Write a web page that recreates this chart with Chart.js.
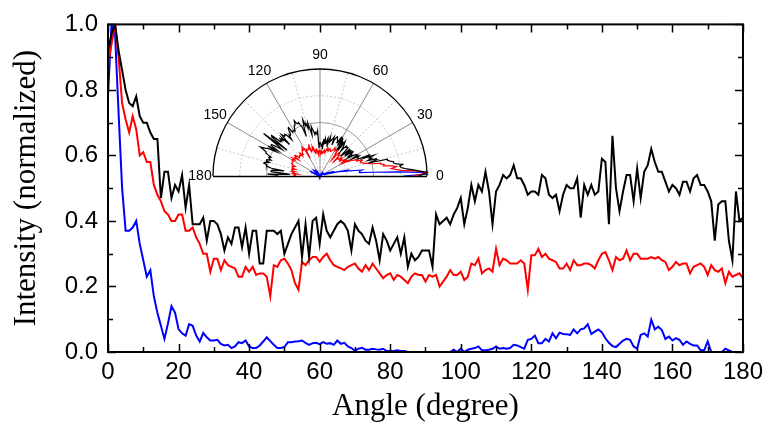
<!DOCTYPE html>
<html>
<head>
<meta charset="utf-8">
<script src="https://cdn.jsdelivr.net/npm/chart.js@4.4.0/dist/chart.umd.min.js"></script>
<style>
  html, body { margin: 0; padding: 0; background: #fff; }
  #wrap { position: relative; width: 769px; height: 425px; }
  #main { position: absolute; left: 0; top: 0; }
  #inset { position: absolute; left: 180px; top: 40px; }
</style>
</head>
<body>
<div id="wrap">
  <canvas id="main" width="769" height="425"></canvas>
  <canvas id="inset" width="280" height="150"></canvas>
</div>
<script>
// angle axis: one sample per degree, 0..180
const angles = Array.from({ length: 181 }, (_, i) => i);

const blackVals = [
  0.92,0.97,1.00,0.92,0.86,0.80,0.76,0.75,0.78,0.72,
  0.70,0.70,0.67,0.65,0.65,0.47,0.55,0.55,0.47,0.51,
  0.49,0.54,0.44,0.51,0.39,0.39,0.39,0.41,0.34,0.40,
  0.40,0.39,0.36,0.31,0.35,0.33,0.38,0.38,0.32,0.38,
  0.30,0.37,0.37,0.27,0.27,0.37,0.37,0.37,0.36,0.37,
  0.30,0.33,0.36,0.38,0.40,0.29,0.39,0.29,0.40,0.41,
  0.33,0.42,0.37,0.35,0.37,0.39,0.40,0.39,0.37,0.31,
  0.39,0.37,0.36,0.34,0.33,0.38,0.34,0.28,0.36,0.34,
  0.31,0.33,0.35,0.30,0.35,0.26,0.30,0.28,0.29,0.31,
  0.31,0.31,0.26,0.42,0.39,0.40,0.41,0.39,0.42,0.44,
  0.47,0.39,0.44,0.51,0.46,0.51,0.49,0.55,0.49,0.39,
  0.49,0.51,0.54,0.53,0.54,0.57,0.53,0.53,0.51,0.48,
  0.49,0.49,0.48,0.54,0.53,0.48,0.47,0.48,0.43,0.48,
  0.51,0.50,0.50,0.53,0.41,0.51,0.48,0.51,0.48,0.49,
  0.59,0.58,0.39,0.66,0.50,0.43,0.49,0.54,0.54,0.46,
  0.56,0.47,0.55,0.57,0.62,0.58,0.55,0.55,0.52,0.49,
  0.51,0.50,0.48,0.52,0.52,0.49,0.53,0.54,0.51,0.51,
  0.49,0.46,0.34,0.45,0.46,0.46,0.34,0.28,0.49,0.40,
  0.41
];

const redVals = [
  0.875,0.94,1.00,0.90,0.76,0.71,0.67,0.72,0.68,0.60,
  0.61,0.58,0.58,0.51,0.48,0.46,0.43,0.42,0.40,0.40,
  0.42,0.42,0.37,0.37,0.38,0.35,0.33,0.30,0.30,0.245,
  0.285,0.285,0.25,0.28,0.265,0.26,0.255,0.23,0.23,0.26,
  0.245,0.26,0.235,0.24,0.24,0.23,0.17,0.265,0.26,0.28,
  0.285,0.27,0.25,0.21,0.19,0.275,0.265,0.28,0.29,0.29,
  0.275,0.29,0.30,0.28,0.265,0.26,0.255,0.25,0.26,0.265,
  0.27,0.255,0.245,0.265,0.25,0.27,0.255,0.24,0.225,0.235,
  0.24,0.22,0.235,0.23,0.22,0.21,0.23,0.24,0.235,0.235,
  0.215,0.235,0.23,0.235,0.20,0.215,0.23,0.25,0.235,0.235,
  0.245,0.22,0.23,0.27,0.265,0.285,0.24,0.25,0.255,0.245,
  0.315,0.265,0.285,0.28,0.27,0.27,0.27,0.28,0.27,0.19,
  0.295,0.295,0.315,0.29,0.30,0.285,0.28,0.275,0.255,0.255,
  0.27,0.25,0.28,0.265,0.265,0.27,0.27,0.265,0.255,0.28,
  0.30,0.305,0.28,0.25,0.29,0.28,0.285,0.31,0.28,0.30,
  0.30,0.285,0.285,0.285,0.29,0.285,0.29,0.28,0.275,0.25,
  0.26,0.275,0.265,0.27,0.27,0.24,0.26,0.265,0.27,0.26,
  0.235,0.265,0.25,0.245,0.255,0.21,0.245,0.23,0.235,0.24,
  0.225
];

const blueVals = [
  0.78,1.00,0.97,0.73,0.50,0.37,0.37,0.38,0.40,0.33,
  0.28,0.23,0.25,0.17,0.12,0.08,0.04,0.087,0.14,0.12,
  0.07,0.057,0.05,0.085,0.08,0.05,0.032,0.058,0.045,0.035,
  0.035,0.037,0.025,0.02,0.022,0.012,0.017,0.03,0.027,0.035,
  0.017,0.012,0.012,0.02,0.032,0.045,0.033,0.022,0.012,0.012,
  0.015,0.03,0.03,0.032,0.033,0.035,0.028,0.022,0.027,0.028,
  0.024,0.03,0.025,0.027,0.022,0.035,0.025,0.028,0.017,0.012,
  0.004,0.01,0.013,0.007,0.007,0.01,0.008,0.007,0.01,0.003,
  0.003,0.003,0.005,0.003,0.003,0,0,0,0,0,
  0,0,0,0,0,0,0,0,0.007,0,
  0.01,0,0.007,0.01,0.012,0.017,0.005,0.005,0.007,0.01,
  0.017,0.01,0.012,0.01,0.012,0.022,0.02,0.015,0.01,0.037,
  0.04,0.05,0.027,0.027,0.04,0.032,0.057,0.042,0.059,0.055,
  0.054,0.052,0.069,0.057,0.069,0.072,0.085,0.055,0.062,0.069,
  0.06,0.042,0.028,0.018,0.015,0.025,0.035,0.04,0.037,0.017,
  0.01,0.052,0.057,0.047,0.099,0.069,0.077,0.067,0.04,0.047,
  0.035,0.042,0.037,0.022,0.032,0.025,0.02,0.02,0.005,0.005,
  0.032,0,0,0,0,0.01,0.005,0,0,0,
  0
];

const xTickValues = [0, 20, 40, 60, 80, 100, 120, 140, 160, 180];
const xTickMarks = [0,10,20,30,40,50,60,70,80,90,100,110,120,130,140,150,160,170,180];
const yTickValues = [0, 0.2, 0.4, 0.6, 0.8, 1.0];
const yTickMarks = [0,0.1,0.2,0.3,0.4,0.5,0.6,0.7,0.8,0.9,1.0];
const polarLabels = [0, 30, 60, 90, 120, 150, 180];
const polarRings = [0.25, 0.5, 0.75];
const polarSpokes = [15,30,45,60,75,90,105,120,135,150,165];

const COLORS = { black: '#000000', red: '#ff0000', blue: '#0000ff' };

function xyPoints(vals) {
  return vals.map((v, i) => ({ x: angles[i], y: v }));
}

// frame + inward ticks on all four sides
const frameTicks = {
  id: 'frameTicks',
  afterDatasetsDraw(chart) {
    const { ctx, chartArea: a, scales: { x, y } } = chart;
    ctx.save();
    ctx.strokeStyle = '#000';
    ctx.lineWidth = 1.5;
    ctx.beginPath();
    xTickMarks.forEach(v => {
      const px = Math.round(x.getPixelForValue(v)) + 0.5;
      const len = v % 20 === 0 ? 8 : 5;
      ctx.moveTo(px, a.bottom); ctx.lineTo(px, a.bottom - len);
      ctx.moveTo(px, a.top); ctx.lineTo(px, a.top + len);
    });
    yTickMarks.forEach((v, i) => {
      const py = Math.round(y.getPixelForValue(v)) + 0.5;
      const len = i % 2 === 0 ? 8 : 5;
      ctx.moveTo(a.left, py); ctx.lineTo(a.left + len, py);
      ctx.moveTo(a.right, py); ctx.lineTo(a.right - len, py);
    });
    ctx.stroke();
    ctx.lineWidth = 2;
    ctx.strokeRect(a.left, a.top, a.right - a.left, a.bottom - a.top);
    ctx.restore();
  }
};

const tickFont = { family: "'Liberation Sans', Arial, sans-serif", size: 24 };
const titleFont = { family: "'Liberation Serif', 'Times New Roman', serif", size: 31 };

new Chart(document.getElementById('main'), {
  type: 'line',
  data: {
    datasets: [
      { label: 'black', data: xyPoints(blackVals), borderColor: COLORS.black, borderWidth: 2 },
      { label: 'red', data: xyPoints(redVals), borderColor: COLORS.red, borderWidth: 2 },
      { label: 'blue', data: xyPoints(blueVals), borderColor: COLORS.blue, borderWidth: 2 }
    ].map(d => Object.assign(d, { pointRadius: 0, tension: 0, fill: false }))
  },
  options: {
    responsive: false,
    animation: false,
    devicePixelRatio: 1,
    layout: { padding: { top: 16, right: 22, left: 0, bottom: 0 } },
    plugins: { legend: { display: false }, tooltip: { enabled: false } },
    scales: {
      x: {
        type: 'linear', min: 0, max: 180,
        grid: { display: false, drawTicks: false },
        border: { display: false },
        afterBuildTicks: s => { s.ticks = xTickValues.map(v => ({ value: v })); },
        afterFit: s => { s.height = 73; },
        ticks: { color: '#000', font: tickFont, padding: 6, maxRotation: 0 },
        title: { display: true, text: 'Angle (degree)', color: '#000', font: titleFont, padding: { top: 0, bottom: 0 } }
      },
      y: {
        min: 0, max: 1,
        grid: { display: false, drawTicks: false },
        border: { display: false },
        afterBuildTicks: s => { s.ticks = yTickValues.map(v => ({ value: v })); },
        afterFit: s => { s.width = 108; },
        ticks: { color: '#000', font: tickFont, padding: 10, callback: v => Number(v).toFixed(1) },
        title: { display: true, text: 'Intensity (normalized)', color: '#000', font: titleFont, padding: { top: 8, bottom: 0 } }
      }
    }
  },
  plugins: [frameTicks]
});

// ---- polar inset ----
function polarPoints(vals) {
  return vals.map((r, i) => {
    const t = angles[i] * Math.PI / 180;
    return { x: r * Math.cos(t), y: r * Math.sin(t) };
  });
}

const polarGrid = {
  id: 'polarGrid',
  beforeDatasetsDraw(chart) {
    const { ctx, scales: { x, y } } = chart;
    const cx = x.getPixelForValue(0), cy = y.getPixelForValue(0);
    const R = x.getPixelForValue(1) - cx;
    ctx.save();
    polarRings.forEach(r => {
      ctx.beginPath();
      ctx.setLineDash(r === 0.5 ? [] : [2, 2]);
      ctx.strokeStyle = r === 0.5 ? '#9a9a9a' : '#c4c4c4';
      ctx.lineWidth = 1;
      ctx.arc(cx, cy, R * r, Math.PI, 2 * Math.PI);
      ctx.stroke();
    });
    polarSpokes.forEach(a => {
      const t = a * Math.PI / 180;
      ctx.beginPath();
      ctx.setLineDash(a % 30 === 0 ? [] : [2, 2]);
      ctx.strokeStyle = a % 30 === 0 ? '#8a8a8a' : '#c4c4c4';
      ctx.lineWidth = 1;
      ctx.moveTo(cx, cy);
      ctx.lineTo(cx + R * Math.cos(t), cy - R * Math.sin(t));
      ctx.stroke();
    });
    ctx.restore();
  },
  afterDatasetsDraw(chart) {
    const { ctx, scales: { x, y } } = chart;
    const cx = x.getPixelForValue(0), cy = y.getPixelForValue(0);
    const R = x.getPixelForValue(1) - cx;
    ctx.save();
    ctx.strokeStyle = '#000';
    ctx.lineWidth = 1.3;
    ctx.beginPath();
    ctx.arc(cx, cy, R, Math.PI, 2 * Math.PI);
    ctx.moveTo(cx - R, cy + 0.5);
    ctx.lineTo(cx + R, cy + 0.5);
    ctx.stroke();
    ctx.fillStyle = '#000';
    ctx.font = "14px 'Liberation Sans', Arial, sans-serif";
    ctx.textAlign = 'center';
    ctx.textBaseline = 'middle';
    polarLabels.forEach(a => {
      const t = a * Math.PI / 180;
      const rr = (a === 0 || a === 180) ? R + 13 : R + 14;
      ctx.fillText(String(a), cx + rr * Math.cos(t), cy - rr * Math.sin(t));
    });
    ctx.restore();
  }
};

new Chart(document.getElementById('inset'), {
  type: 'scatter',
  data: {
    datasets: [
      { data: polarPoints(blackVals), borderColor: COLORS.black },
      { data: polarPoints(redVals), borderColor: COLORS.red },
      { data: polarPoints(blueVals), borderColor: COLORS.blue }
    ].map(d => Object.assign(d, { showLine: true, pointRadius: 0, borderWidth: 1.2, tension: 0, clip: false }))
  },
  options: {
    responsive: false,
    animation: false,
    devicePixelRatio: 1,
    layout: { padding: { left: 33, right: 33, top: 29, bottom: 14 } },
    plugins: { legend: { display: false }, tooltip: { enabled: false } },
    scales: {
      x: { type: 'linear', min: -1, max: 1, display: false },
      y: { type: 'linear', min: 0, max: 1, display: false }
    }
  },
  plugins: [polarGrid]
});
</script>
</body>
</html>
